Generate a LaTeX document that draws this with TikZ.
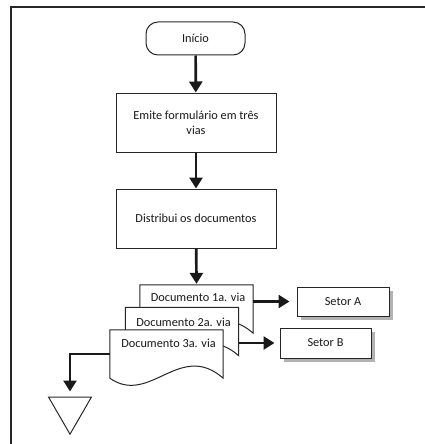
\documentclass[tikz,border=0pt]{standalone}
\usepackage{fontspec}
\setmainfont{Carlito}
\usetikzlibrary{arrows.meta,calc,shadows,shapes.geometric}
\begin{document}
\begin{tikzpicture}[x=1pt,y=-1pt,
  every node/.style={font=\fontsize{12.3}{15}\selectfont, text=black!90},
  boxline/.style={draw=black!85, line width=1pt},
  procbox/.style={boxline, minimum width=160pt, minimum height=59pt, inner sep=0pt, align=center},
  termbox/.style={boxline, rounded corners=12pt, minimum width=99pt, minimum height=33pt, inner sep=0pt},
  setorbox/.style={boxline, fill=white, minimum width=92pt, minimum height=29pt, inner sep=0pt,
     drop shadow={shadow xshift=4pt, shadow yshift=-4pt, fill=black!30, opacity=1}},
  docframe/.style={draw=none, minimum width=113pt, minimum height=48pt, inner sep=0pt},
  doctext/.style={inner sep=0pt},
  flow/.style={draw=black!90, line width=2.7pt, -{Triangle[length=11pt,width=13pt]}},
]
\useasboundingbox (0,0) rectangle (425,444);
% frame
\draw[black!85, line width=1.2pt] (425,7) -- (11,7) -- (11,444);

\node[termbox] (ini) at (195.5,38.5) {Início};
\node[procbox] (emite) at (196,122.5) {Emite formulário em três\\vias};
\node[procbox] (dist) at (196,218.5) {Distribui os documentos};

% documents
\node[docframe] (d1) at (196.5,309) {};
\node[docframe] (d2) at (182,331.5) {};
\node[docframe] (d3) at (166.5,354) {};
\foreach \d in {d1,d2,d3}{
  \filldraw[boxline, fill=white] (\d.south west) -- (\d.north west) -- (\d.north east) -- (\d.south east)
     .. controls ($(\d.south west)+(70,-38)$) and ($(\d.south west)+(40,28)$) .. (\d.south west) -- cycle;
}
\node[doctext] (t1) at ($(d1.north)+(1.5,13)$) {Documento 1a. via};
\node[doctext] (t2) at ($(d2.north)+(1.5,15)$) {Documento 2a. via};
\node[doctext] (t3) at ($(d3.north)+(2,14)$) {Documento 3a. via};

\node[setorbox] (sa) at (343,301.5) {Setor A};
\node[setorbox, minimum width=91pt, minimum height=30pt] (sb) at (325.5,343) {Setor B};

\node[boxline, regular polygon, regular polygon sides=3, shape border rotate=180,
      minimum size=49.6pt, inner sep=0pt] (tri) at (70,409.4) {};

% connectors
\draw[flow] (ini) -- (emite);
\draw[flow] (emite) -- (dist);
\draw[flow, shorten >=1pt] (dist) -- (d1.north |- d1.north);
\draw[flow, shorten >=7pt] (sa.west -| d1.east) -- (sa.west);
\draw[flow, shorten >=5pt] (sb.west -| d2.east) -- (sb.west);
\draw[flow, shorten >=5pt] (d3.west) -| (tri.north);
\end{tikzpicture}
\end{document}
